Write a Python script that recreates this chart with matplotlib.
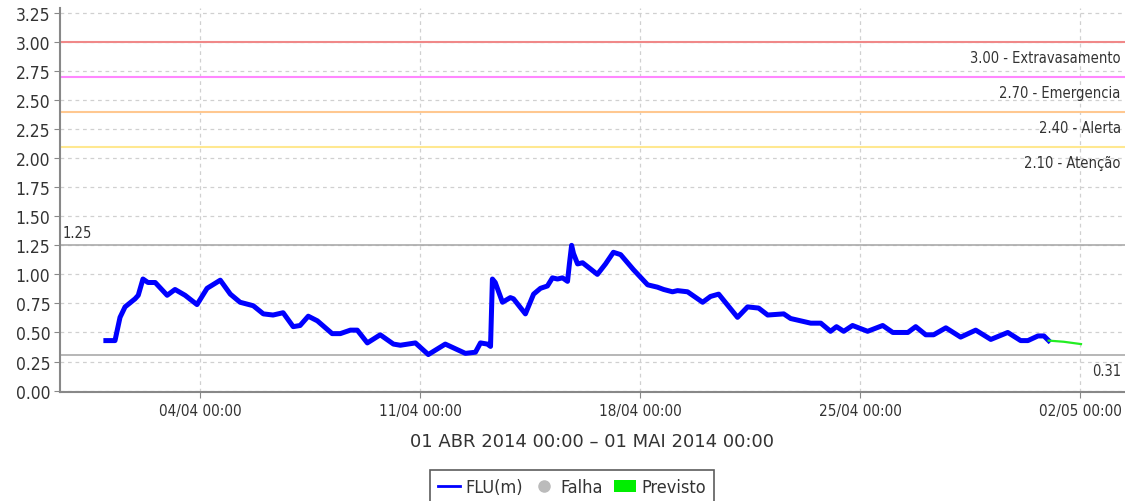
import datetime as dt
import matplotlib.pyplot as plt
import matplotlib.dates as mdates
from matplotlib.lines import Line2D
from matplotlib.patches import Patch

plt.rcParams['font.family'] = ['DejaVu Sans']
plt.rcParams['font.stretch'] = 'condensed'

# days since 01/04/2014 00:00, level in m
flu_days = [0.00, 0.29, 0.45, 0.61, 0.93, 1.03, 1.18, 1.34, 1.57, 1.95, 2.20, 2.52,
            2.90, 3.22, 3.64, 3.96, 4.27, 4.69, 5.01, 5.32, 5.64, 5.96, 6.18, 6.44,
            6.73, 7.20, 7.46, 7.78, 8.00, 8.32, 8.73, 9.15, 9.37, 9.85, 10.26, 10.80,
            11.44, 11.76, 11.92, 12.14, 12.24, 12.30, 12.39, 12.62, 12.87, 12.97, 13.35,
            13.61, 13.83, 14.05, 14.21, 14.37, 14.53, 14.69, 14.75, 14.82, 14.88, 15.01,
            15.17, 15.64, 15.90, 16.15, 16.38, 16.79, 17.24, 17.55, 17.75, 18.03, 18.19,
            18.51, 18.99, 19.24, 19.50, 20.10, 20.42, 20.77, 21.06, 21.57, 21.79, 22.11,
            22.43, 22.75, 23.06, 23.25, 23.48, 23.76, 24.24, 24.72, 25.04, 25.52, 25.77,
            26.09, 26.34, 26.73, 27.20, 27.68, 28.16, 28.70, 29.11, 29.34, 29.66, 29.85,
            30.00]
flu_vals = [0.43, 0.43, 0.63, 0.72, 0.79, 0.82, 0.96, 0.93, 0.93, 0.82, 0.87, 0.82,
            0.74, 0.88, 0.95, 0.83, 0.76, 0.73, 0.66, 0.65, 0.67, 0.55, 0.56, 0.64,
            0.60, 0.49, 0.49, 0.52, 0.52, 0.41, 0.48, 0.40, 0.39, 0.41, 0.31, 0.40,
            0.32, 0.33, 0.41, 0.40, 0.38, 0.96, 0.93, 0.76, 0.80, 0.79, 0.66,
            0.83, 0.88, 0.90, 0.97, 0.96, 0.97, 0.94, 1.09, 1.25, 1.18, 1.09,
            1.10, 1.00, 1.09, 1.19, 1.17, 1.04, 0.91, 0.89, 0.87, 0.85, 0.86,
            0.85, 0.76, 0.81, 0.83, 0.63, 0.72, 0.71, 0.65, 0.66, 0.62, 0.60,
            0.58, 0.58, 0.51, 0.55, 0.51, 0.56, 0.51, 0.56, 0.50, 0.50, 0.55,
            0.48, 0.48, 0.54, 0.46, 0.52, 0.44, 0.50, 0.43, 0.43, 0.47, 0.47,
            0.43]
prev_days = [30.00, 30.48, 31.03]
prev_vals = [0.43, 0.42, 0.40]

thresholds = [3.00, 2.70, 2.40, 2.10]
threshold_names = ['Extravasamento', 'Emergencia', 'Alerta', 'Atenção']
threshold_colors = ['#f08888', '#ff88ff', '#ffc890', '#ffe890']
max_val, min_val = 1.25, 0.31

base = dt.datetime(2014, 4, 1)
t_flu = [base + dt.timedelta(days=d) for d in flu_days]
t_prev = [base + dt.timedelta(days=d) for d in prev_days]

fig = plt.figure(figsize=(11.25, 5.02), dpi=100)
ax = fig.add_axes([60 / 1125, 1 - 393.3 / 502, 1 - 60 / 1125, (393.3 - 9.3) / 502])

for spine in ['top', 'right']:
    ax.spines[spine].set_visible(False)
for spine in ['left', 'bottom']:
    ax.spines[spine].set_color('#888888')
    ax.spines[spine].set_linewidth(1.5)

ax.set_ylim(-0.015, 3.29)
ax.set_xlim(base + dt.timedelta(days=-1.46), base + dt.timedelta(days=32.43))
ax.set_yticks([i * 0.25 for i in range(14)])
ax.yaxis.set_major_formatter(plt.FormatStrFormatter('%.2f'))
ax.set_xticks([dt.datetime(2014, 4, 4), dt.datetime(2014, 4, 11), dt.datetime(2014, 4, 18),
               dt.datetime(2014, 4, 25), dt.datetime(2014, 5, 2)])
ax.xaxis.set_major_formatter(mdates.DateFormatter('%d/%m %H:%M'))
ax.tick_params(axis='both', colors='#888888', labelcolor='#333333', labelsize=11, length=4)
ax.tick_params(axis='y', labelsize=12.5, pad=3)
ax.grid(True, color='#d0d0d0', linestyle=(0, (3, 3)), linewidth=0.9)

for v, name, c in zip(thresholds, threshold_names, threshold_colors):
    ax.axhline(v, color=c, linewidth=1.5)
    ax.annotate(f'{v:.2f} - {name}', xy=(1, v), xycoords=('axes fraction', 'data'),
                xytext=(-3, -6), textcoords='offset points', ha='right', va='top',
                fontsize=10.5, color='#333333')

ax.axhline(max_val, color='#aaaaaa', linewidth=1.2)
ax.axhline(min_val, color='#aaaaaa', linewidth=1.2)
ax.annotate(f'{max_val:.2f}', xy=(0, max_val), xycoords=('axes fraction', 'data'),
            xytext=(2, 4), textcoords='offset points', ha='left', va='bottom',
            fontsize=10.5, color='#333333')
ax.annotate(f'{min_val:.2f}', xy=(1, min_val), xycoords=('axes fraction', 'data'),
            xytext=(-3, -6), textcoords='offset points', ha='right', va='top',
            fontsize=10.5, color='#333333')

ax.plot(t_flu, flu_vals, color='#0000ff', linewidth=3.6, solid_joinstyle='round')
ax.plot(t_prev, prev_vals, color='#22ee22', linewidth=1.6)

ax.set_xlabel('01 ABR 2014 00:00 – 01 MAI 2014 00:00', fontsize=13, color='#333333',
              labelpad=10, fontstretch='normal')

handles = [Line2D([], [], color='#0000ff', linewidth=2),
           Line2D([], [], color='#bbbbbb', marker='o', linestyle='none', markersize=8),
           Patch(facecolor='#00ee00', edgecolor='none')]
leg = fig.legend(handles, ['FLU(m)', 'Falha', 'Previsto'], loc='upper center',
                 bbox_to_anchor=(572 / 1125, 1 - 462 / 502), ncol=3, fontsize=13,
                 frameon=True, fancybox=False, handlelength=1.2, handletextpad=0.3,
                 columnspacing=0.6, borderpad=0.45, handleheight=0.7)
leg.get_frame().set_edgecolor('#333333')
leg.get_frame().set_linewidth(1.2)
for t in leg.get_texts():
    t.set_color('#333333')

fig.savefig('out.png', dpi=100)
